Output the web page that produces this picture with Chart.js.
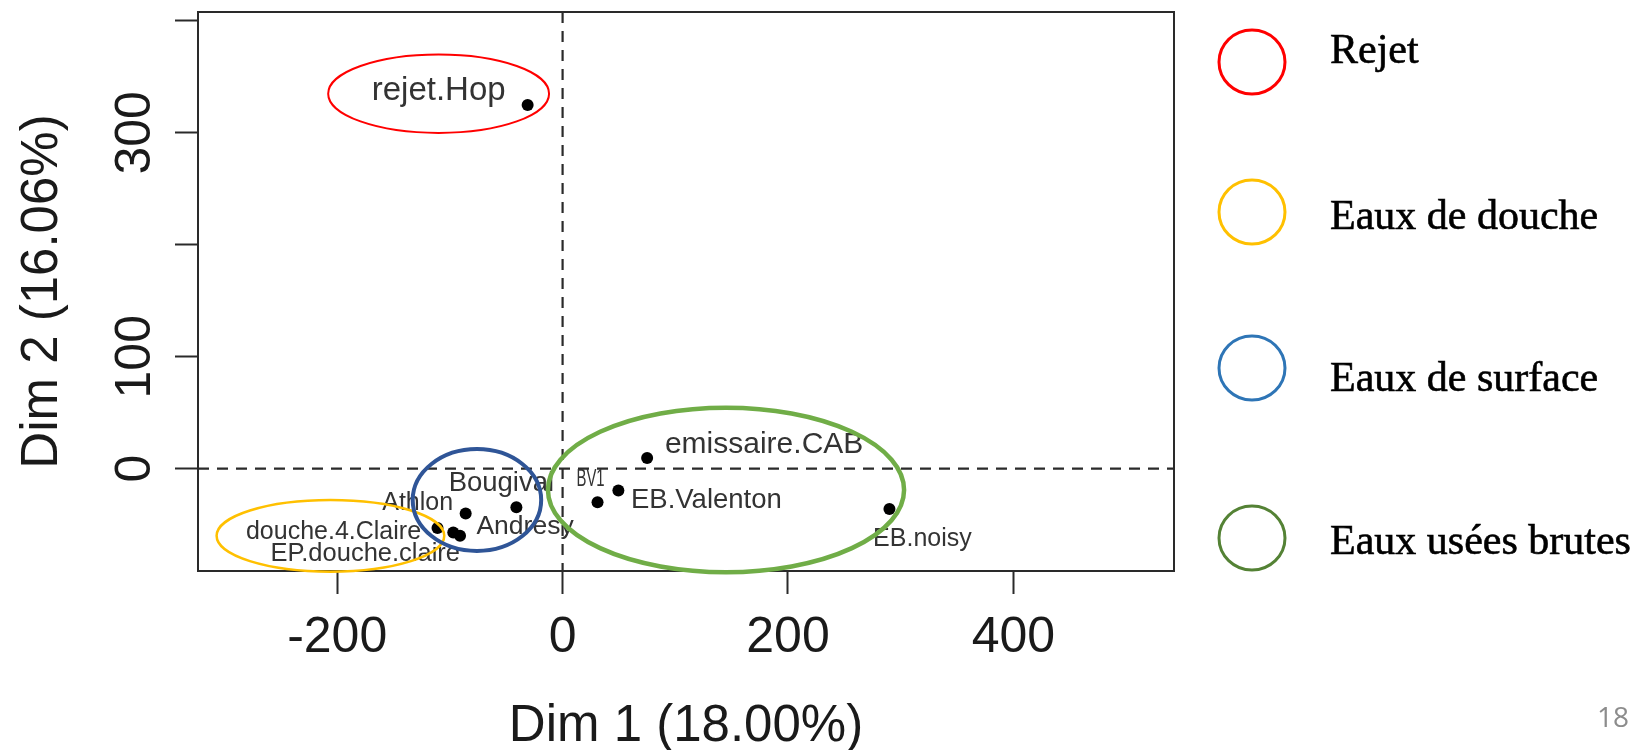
<!DOCTYPE html>
<html>
<head>
<meta charset="utf-8">
<script src="https://cdn.jsdelivr.net/npm/chart.js@4.4.1/dist/chart.umd.min.js"></script>
<style>
  html, body { margin: 0; padding: 0; background: #fff; }
  canvas { display: block; }
</style>
</head>
<body>
<canvas id="pcaChart" width="1649" height="750"></canvas>
<script>
// individuals on the first factorial plane
const sampleNames = ['rejet.Hop', 'emissaire.CAB', 'EB.Valenton', 'BV1', 'EB.noisy',
                     'Bougival', 'Athlon', 'Andresy', 'douche.4.Claire', 'EP.douche.claire'];
const dim1 = [-31, 75, 49.5, 31, 290, -41, -86, -91, -111, -97];
const dim2 = [325, 9.5, -19.5, -30, -36, -34.5, -40, -60, -53, -57];

const xTicks = [-200, 0, 200, 400];
const xTickLabels = ['-200', '0', '200', '400'];
const yTicks = [0, 100, 200, 300, 400];
const yTickLabels = ['0', '100', '', '300', ''];

// groups (ellipses drawn round the samples)
const groupNames = ['Rejet', 'Eaux de douche', 'Eaux de surface', 'Eaux usées brutes'];
const groupCenterX = [-110, -206, -76, 145];
const groupCenterY = [335, -60, -28, -19];
const groupRadiusX = [98, 101, 57, 158];
const groupRadiusY = [35, 32, 45.5, 73.5];

// styles
const groupColors = ['#ff0000', '#ffc000', '#2f5597', '#70ad47'];
const groupLineWidths = [2, 2.5, 4, 4.5];
const legendColors = ['#ff0000', '#ffc000', '#2e75b6', '#548235'];
const legendCenters = [62, 212, 368, 538];
const legendBaselines = [63, 229, 391, 554];
// label placement relative to the point: [dx, dy, font size, horizontal squeeze]
const labelStyle = [
  [-89, -14, 33, 1], [117, -13, 30, 1], [88, 10, 27.5, 1], [-7, -23, 24, 0.62], [33, 30, 25, 1],
  [-15, -24, 27.5, 1], [-48, -10, 25, 1], [65, -9, 26.5, 1], [-104, 4, 25, 1], [-88, 21, 25.5, 1]
];

const SANS = '"Liberation Sans", Arial, sans-serif';
const AXIS_COLOR = '#2a2a2a';
const TEXT_COLOR = '#1a1a1a';

const points = dim1.map((v, i) => ({ x: v, y: dim2[i] }));

const pcaDecor = {
  id: 'pcaDecor',
  beforeDatasetsDraw(chart) {
    const { ctx, chartArea: a, scales: { x, y } } = chart;
    ctx.save();
    ctx.strokeStyle = AXIS_COLOR;
    ctx.lineWidth = 2.2;
    ctx.setLineDash([11, 8]);
    const x0 = x.getPixelForValue(0);
    const y0 = y.getPixelForValue(0);
    ctx.beginPath();
    ctx.moveTo(x0, a.top); ctx.lineTo(x0, a.bottom);
    ctx.moveTo(a.left, y0); ctx.lineTo(a.right, y0);
    ctx.stroke();
    ctx.setLineDash([]);
    ctx.lineWidth = 2;
    ctx.strokeRect(a.left, a.top, a.right - a.left, a.bottom - a.top);
    ctx.restore();
  },
  afterDatasetsDraw(chart) {
    const { ctx, scales: { x, y } } = chart;
    ctx.save();

    // sample labels
    ctx.fillStyle = '#333';
    ctx.textAlign = 'center';
    ctx.textBaseline = 'middle';
    sampleNames.forEach((name, i) => {
      const [dx, dy, size, squeeze] = labelStyle[i];
      ctx.save();
      ctx.translate(x.getPixelForValue(dim1[i]) + dx, y.getPixelForValue(dim2[i]) + dy);
      ctx.scale(squeeze, 1);
      ctx.font = size + 'px ' + SANS;
      ctx.fillText(name, 0, 0);
      ctx.restore();
    });

    // group ellipses
    groupNames.forEach((g, i) => {
      const cx = x.getPixelForValue(groupCenterX[i]);
      const cy = y.getPixelForValue(groupCenterY[i]);
      const rx = x.getPixelForValue(groupCenterX[i] + groupRadiusX[i]) - cx;
      const ry = cy - y.getPixelForValue(groupCenterY[i] + groupRadiusY[i]);
      ctx.beginPath();
      ctx.ellipse(cx, cy, rx, ry, 0, 0, Math.PI * 2);
      ctx.strokeStyle = groupColors[i];
      ctx.lineWidth = groupLineWidths[i];
      ctx.stroke();
    });

    // legend on the right
    groupNames.forEach((g, i) => {
      ctx.beginPath();
      ctx.ellipse(1252, legendCenters[i], 33, 32, 0, 0, Math.PI * 2);
      ctx.strokeStyle = legendColors[i];
      ctx.lineWidth = 3;
      ctx.stroke();
      ctx.fillStyle = '#000';
      ctx.strokeStyle = '#000';
      ctx.lineWidth = 0.6;
      ctx.textAlign = 'left';
      ctx.textBaseline = 'alphabetic';
      ctx.font = '42px "Liberation Serif", "Times New Roman", serif';
      ctx.fillText(g, 1330, legendBaselines[i]);
      ctx.strokeText(g, 1330, legendBaselines[i]);
    });

    // slide number
    ctx.fillStyle = '#8c8c8c';
    ctx.font = '28px "Open Sans", "Noto Sans", sans-serif';
    ctx.textAlign = 'center';
    ctx.textBaseline = 'middle';
    ctx.fillText('18', 1613, 719);
    ctx.restore();
  }
};

const tickGrid = {
  drawOnChartArea: false,
  drawTicks: true,
  tickLength: 23,
  tickColor: AXIS_COLOR,
  tickWidth: 2
};

new Chart(document.getElementById('pcaChart'), {
  type: 'scatter',
  data: {
    datasets: [{
      label: 'individus',
      data: points,
      pointRadius: 6,
      pointHoverRadius: 6,
      backgroundColor: '#000',
      borderColor: '#000',
      borderWidth: 0
    }]
  },
  options: {
    responsive: false,
    devicePixelRatio: 1,
    animation: false,
    layout: { padding: { left: 0, right: 475, top: 12, bottom: 0 } },
    plugins: { legend: { display: false }, tooltip: { enabled: false } },
    scales: {
      x: {
        type: 'linear',
        min: -323.5,
        max: 542.5,
        afterBuildTicks: s => { s.ticks = xTicks.map(v => ({ value: v })); },
        afterFit: s => { s.height = 179; s.paddingLeft = 0; s.paddingRight = 0; },
        grid: tickGrid,
        border: { display: true, color: AXIS_COLOR, width: 2 },
        ticks: {
          autoSkip: false,
          maxRotation: 0,
          padding: 14,
          color: TEXT_COLOR,
          font: { family: SANS, size: 50 },
          callback: v => xTickLabels[xTicks.indexOf(v)]
        },
        title: {
          display: true,
          text: 'Dim 1 (18.00%)',
          color: TEXT_COLOR,
          font: { family: SANS, size: 51, lineHeight: 0.9 },
          padding: 0
        }
      },
      y: {
        type: 'linear',
        min: -91.4,
        max: 408,
        afterBuildTicks: s => { s.ticks = yTicks.map(v => ({ value: v })); },
        afterFit: s => { s.width = 198; s.paddingTop = 0; s.paddingBottom = 0; },
        grid: tickGrid,
        border: { display: true, color: AXIS_COLOR, width: 2 },
        ticks: {
          autoSkip: false,
          minRotation: 90,
          maxRotation: 90,
          crossAlign: 'center',
          padding: -3,
          color: TEXT_COLOR,
          font: { family: SANS, size: 50 },
          callback: v => yTickLabels[yTicks.indexOf(v)]
        },
        title: {
          display: true,
          text: 'Dim 2 (16.06%)',
          color: TEXT_COLOR,
          font: { family: SANS, size: 51 },
          padding: { top: 12, bottom: 0 }
        }
      }
    }
  },
  plugins: [pcaDecor]
});
</script>
</body>
</html>
